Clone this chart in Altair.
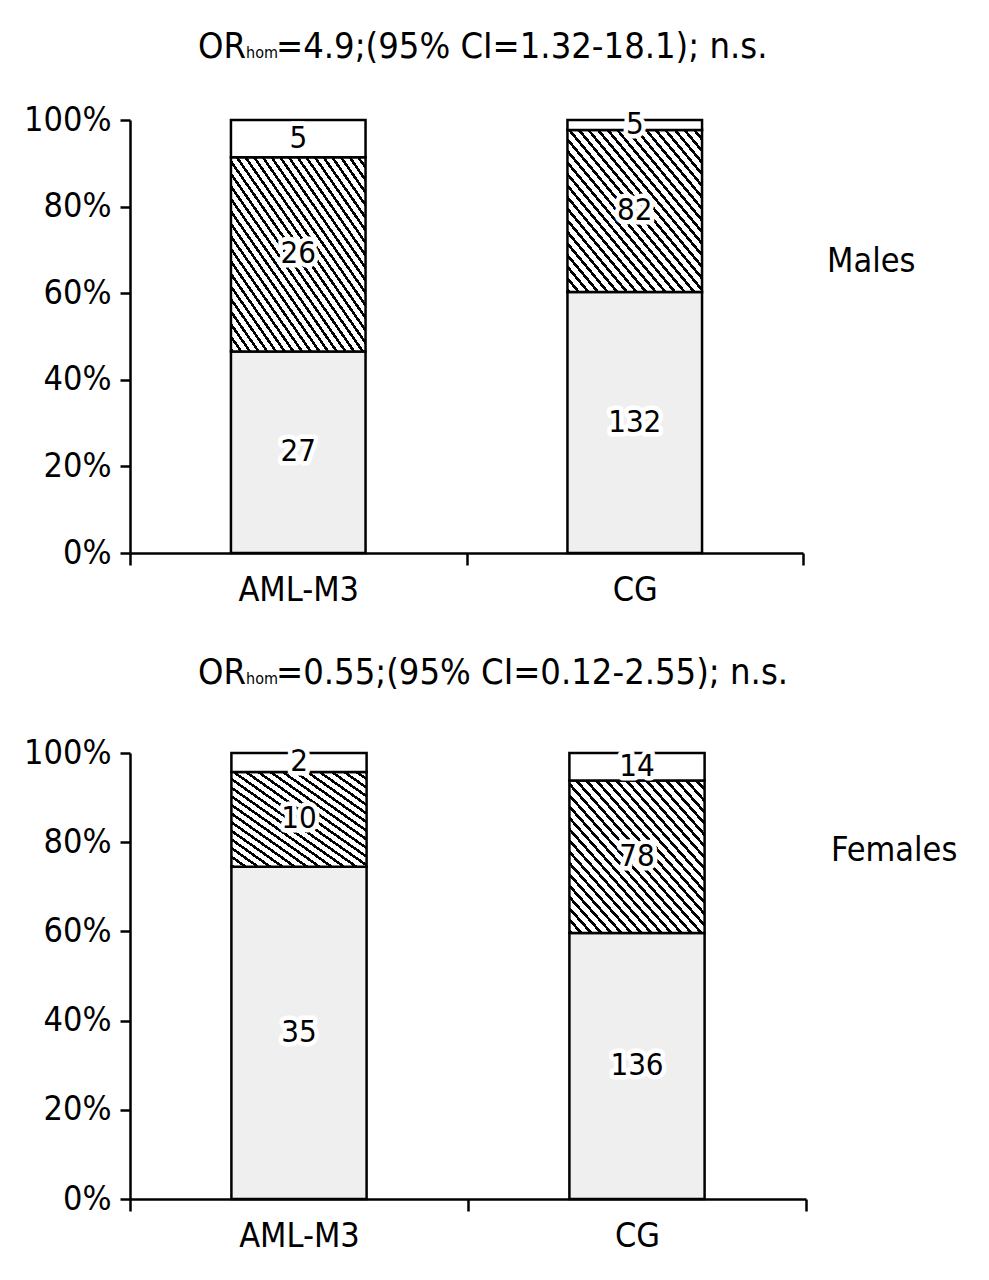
import altair as alt
import pandas as pd

# ---- data ----
groups = ["AML-M3", "CG"]
genotypes = ["dotted", "hatched", "white"]          # bottom -> top
male_aml = [27, 26, 5]
male_cg = [132, 82, 5]
female_aml = [35, 10, 2]
female_cg = [136, 78, 14]

male_title = ["OR", "hom", "=4.9;(95% CI=1.32-18.1); n.s."]
female_title = ["OR", "hom", "=0.55;(95% CI=0.12-2.55); n.s."]

FONT = "DejaVu Sans Condensed"


def make_df(aml, cg):
    rows = []
    for g, vals in zip(groups, [aml, cg]):
        for i, (gt, v) in enumerate(zip(genotypes, vals)):
            rows.append({"group": g, "genotype": gt, "order": i, "count": v})
    return pd.DataFrame(rows)


def hatch(n, frac=0.36):
    stops = []
    for i in range(n):
        a = i / n
        b = (i + frac) / n
        c = (i + 1) / n
        stops += [
            alt.GradientStop(offset=a, color="black"),
            alt.GradientStop(offset=b, color="black"),
            alt.GradientStop(offset=b, color="white"),
            alt.GradientStop(offset=c, color="white"),
        ]
    return alt.LinearGradient(gradient="linear", stops=stops, x1=0, y1=1, x2=1, y2=0)


def panel(df, w, h, title, side_label, side_xy, title_y):
    base = (
        alt.Chart(df)
        .transform_joinaggregate(total="sum(count)", groupby=["group"])
        .transform_calculate(pct="datum.count / datum.total")
        .transform_stack(
            stack="pct", groupby=["group"],
            sort=[alt.SortField("order", order="ascending")], as_=["y0", "y1"],
        )
        .transform_calculate(ymid="(datum.y0 + datum.y1) / 2")
    )
    x = alt.X(
        "group:N", sort=groups, title=None,
        scale=alt.Scale(paddingInner=0, paddingOuter=0),
        axis=alt.Axis(labelAngle=0, tickBand="extent", tickSize=12, labelPadding=8),
    )
    y_axis = alt.Axis(
        format="%", values=[0, 0.2, 0.4, 0.6, 0.8, 1.0], grid=False,
        tickSize=10, labelPadding=9,
    )
    y = alt.Y("y0:Q", title=None, scale=alt.Scale(domain=[0, 1]), axis=y_axis)

    bar_w = 0.4 * w / 2
    layers = []
    for gt in genotypes:
        for g in groups:
            if gt == "hatched":
                row = df[(df.group == g) & (df.genotype == gt)].iloc[0]
                seg_h = row["count"] / df[df.group == g]["count"].sum() * h
                fill = hatch(max(4, round((bar_w + seg_h) / 10.5)))
            elif gt == "dotted":
                fill = "#efefef"
            else:
                fill = "white"
            layers.append(
                base.transform_filter((alt.datum.genotype == gt) & (alt.datum.group == g))
                .mark_bar(width=alt.RelativeBandSize(0.4), fill=fill,
                          stroke="black", strokeWidth=2.5)
                .encode(x=x, y=y, y2="y1:Q")
            )
    halo = base.mark_text(
        font=FONT, fontSize=31, stroke="white", strokeWidth=9,
        strokeJoin="round", color="white", baseline="middle",
    ).encode(x=x, y=alt.Y("ymid:Q"), text="count:Q")
    lbl = base.mark_text(
        font=FONT, fontSize=31, color="black", baseline="middle",
    ).encode(x=x, y=alt.Y("ymid:Q"), text="count:Q")
    layers += [halo, lbl]

    t1 = alt.Chart(pd.DataFrame({"t": [title[0]]})).mark_text(
        font=FONT, fontSize=36, align="right", baseline="alphabetic", color="black"
    ).encode(text="t:N", x=alt.value(116), y=alt.value(title_y))
    t2 = alt.Chart(pd.DataFrame({"t": [title[1]]})).mark_text(
        font=FONT, fontSize=16, align="left", baseline="alphabetic", color="black"
    ).encode(text="t:N", x=alt.value(116), y=alt.value(title_y))
    t3 = alt.Chart(pd.DataFrame({"t": [title[2]]})).mark_text(
        font=FONT, fontSize=36, align="left", baseline="alphabetic", color="black"
    ).encode(text="t:N", x=alt.value(146), y=alt.value(title_y))
    side = alt.Chart(pd.DataFrame({"t": [side_label]})).mark_text(
        font=FONT, fontSize=34, align="left", baseline="middle", color="black"
    ).encode(text="t:N", x=alt.value(side_xy[0]), y=alt.value(side_xy[1]))
    layers += [t1, t2, t3, side]
    return alt.layer(*layers).properties(width=w, height=h)


top = panel(make_df(male_aml, male_cg), 673, 433, male_title, "Males", (697, 142), -62)
bottom = panel(make_df(female_aml, female_cg), 676, 446, female_title, "Females", (701, 98), -69)

chart = (
    alt.vconcat(top, bottom, spacing=48)
    .properties(padding={"left": 15, "top": 21, "right": 5, "bottom": 5})
    .configure_view(stroke=None)
    .configure_axis(
        domainColor="black", domainWidth=2.5, tickColor="black", tickWidth=2.5,
        labelColor="black", labelFont=FONT, labelFontSize=34,
    )
)

chart.save("out.html", embed_options={"renderer": "svg", "actions": False})
